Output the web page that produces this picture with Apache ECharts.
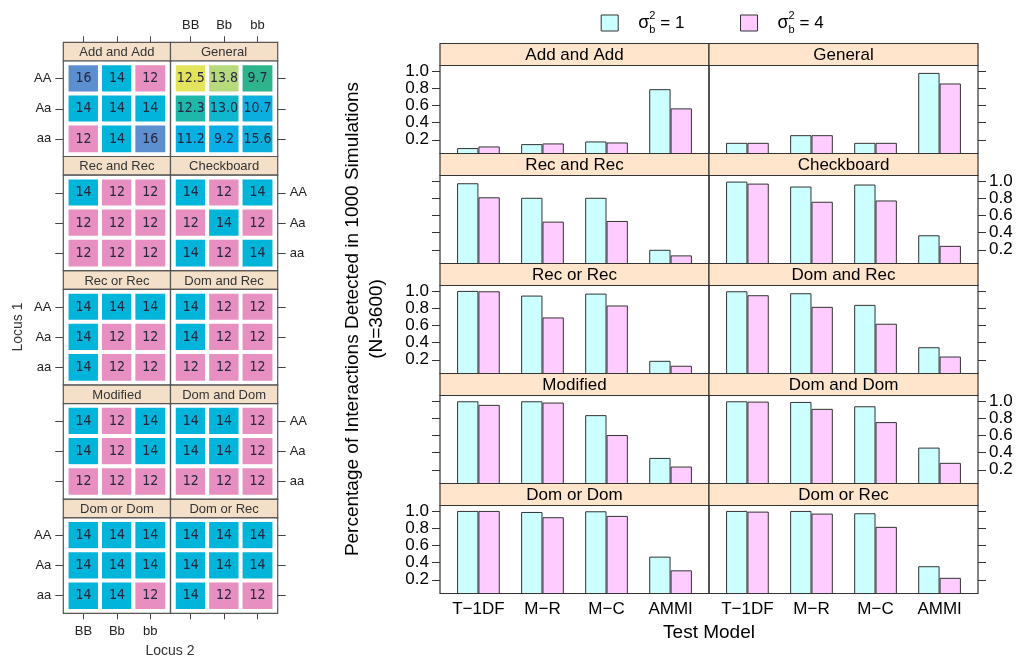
<!DOCTYPE html>
<html><head><meta charset="utf-8">
<script src="https://cdn.jsdelivr.net/npm/echarts@6/dist/echarts.min.js"></script>
<style>html,body{margin:0;padding:0;background:#fff}#c{width:1022px;height:658px}</style>
</head><body><div id="c"></div>
<script>
// ---------------- data ----------------
const panelNames = ['Add and Add','General','Rec and Rec','Checkboard','Rec or Rec','Dom and Rec','Modified','Dom and Dom','Dom or Dom','Dom or Rec'];
const testModels = ['T\u22121DF','M\u2212R','M\u2212C','AMMI'];
const locus1Labels = ['AA','Aa','aa'];
const locus2Labels = ['BB','Bb','bb'];
const powerTicks = [0.2,0.4,0.6,0.8,1.0];
const seriesNames = ['sigma1','sigma4'];

// penetrance tables (rows AA, Aa, aa ; columns BB, Bb, bb)
const heatAddAndAdd = [[16,14,12],[14,14,14],[12,14,16]];
const heatGeneral   = [[12.5,13.8,9.7],[12.3,13.0,10.7],[11.2,9.2,15.6]];
const heatRecAndRec = [[14,12,12],[12,12,12],[12,12,12]];
const heatCheckboard= [[14,12,14],[12,14,12],[14,12,14]];
const heatRecOrRec  = [[14,14,14],[14,12,12],[14,12,12]];
const heatDomAndRec = [[14,12,12],[14,12,12],[12,12,12]];
const heatModified  = [[14,12,14],[14,12,14],[12,12,12]];
const heatDomAndDom = [[14,14,12],[14,14,12],[12,12,12]];
const heatDomOrDom  = [[14,14,14],[14,14,14],[14,14,12]];
const heatDomOrRec  = [[14,14,14],[14,14,14],[14,12,12]];
const heatValues = [heatAddAndAdd,heatGeneral,heatRecAndRec,heatCheckboard,heatRecOrRec,heatDomAndRec,heatModified,heatDomAndDom,heatDomOrDom,heatDomOrRec];

// power (T-1DF, M-R, M-C, AMMI) per panel
const sigma1Power = [
  [0.104,0.150,0.181,0.788],
  [0.165,0.254,0.165,0.977],
  [0.973,0.804,0.804,0.200],
  [0.992,0.935,0.958,0.369],
  [1.000,0.946,0.969,0.188],
  [0.996,0.973,0.838,0.346],
  [0.996,0.996,0.835,0.338],
  [0.996,0.988,0.938,0.458],
  [1.000,0.988,0.996,0.469],
  [1.000,1.000,0.973,0.358]
];
const sigma4Power = [
  [0.123,0.158,0.169,0.565],
  [0.165,0.254,0.165,0.854],
  [0.810,0.527,0.535,0.135],
  [0.969,0.758,0.773,0.246],
  [0.996,0.692,0.831,0.131],
  [0.950,0.815,0.619,0.238],
  [0.954,0.981,0.604,0.238],
  [0.992,0.908,0.754,0.281],
  [1.000,0.927,0.942,0.310],
  [0.992,0.969,0.815,0.223]
];

// ---------------- styles ----------------
const levelColors = {16:'#5b8fcf',14:'#00b4da',12:'#e88fc1'};
const generalColors = [['#e4e45c','#b7da7c','#2db48c'],['#1eb7aa','#10b7cc','#0aafe0'],['#08afe3','#0aaee6','#0aaedb']];
const FONT = '"Liberation Sans", Arial, sans-serif';
const NARROW = '"Liberation Sans Narrow", "DejaVu Sans Condensed", sans-serif';
const barColors = ['#ccffff','#ffccff'];

const R = {x0:440, colW:269, top:43.5, stripH:22, panelH:88, rowH:110};
const L = {x0:63.3, colW:107.2, top:42.3, stripH:18.7, panelH:95.5, rowH:114.2};

const grids=[], xAxes=[], yAxes=[], series=[], graphics=[];
let gi = 0;

// ---------------- right bar chart ----------------
const unit = R.colW/4.2;
for (let p=0;p<10;p++){
  const r=Math.floor(p/2), c=p%2;
  const px = R.x0 + c*R.colW, sy = R.top + r*R.rowH, py = sy + R.stripH;
  grids.push({left: px + 0.1*unit, top: py, width: 4*unit, height: R.panelH});
  xAxes.push({type:'category', gridIndex:gi, data:testModels,
    axisLine:{show:false}, axisTick:{show:false}, splitLine:{show:false},
    axisLabel:{show:r===4, fontSize:17, color:'#000', margin:7, fontFamily:FONT, interval:0}});
  yAxes.push({type:'value', gridIndex:gi, min:0.041, max:1.063, position:c===0?'left':'right', offset:0.1*unit,
    axisLine:{show:false}, splitLine:{show:false},
    axisTick:{show:true, length:8, customValues:powerTicks, lineStyle:{color:'#333', width:1}},
    axisLabel:{show: c===0 ? r%2===0 : r%2===1, customValues:powerTicks, formatter:v=>v.toFixed(1),
      fontSize:17, color:'#000', margin:11, fontFamily:FONT}});
  [sigma1Power, sigma4Power].forEach((arr,k)=>{
    series.push({type:'bar', name:seriesNames[k], xAxisIndex:gi, yAxisIndex:gi, data:arr[p],
      barWidth:unit/3, barGap:'0%', clip:true, silent:true,
      itemStyle:{color:barColors[k], borderColor:'#333', borderWidth:1}});
  });
  graphics.push({type:'rect', z:1, shape:{x:px, y:sy, width:R.colW, height:R.stripH},
    style:{fill:'#ffe5cc', stroke:'#333', lineWidth:1.2}});
  graphics.push({type:'rect', z:100, shape:{x:px, y:py, width:R.colW, height:R.panelH},
    style:{fill:null, stroke:'#333', lineWidth:1.2}});
  graphics.push({type:'text', z:101, x:px+R.colW/2, y:sy+R.stripH/2+1,
    style:{text:panelNames[p], font:'17px '+FONT, fill:'#000', textAlign:'center', textVerticalAlign:'middle'}});
  gi++;
}
graphics.push({type:'text', x:365, y:319, rotation:Math.PI/2,
  style:{text:'Percentage of Interactions Detected in 1000 Simulations\n(N=3600)', font:'19px '+FONT, fill:'#000',
    textAlign:'center', textVerticalAlign:'middle', lineHeight:24}});
graphics.push({type:'text', x:709, y:633,
  style:{text:'Test Model', font:'19px '+FONT, fill:'#000', textAlign:'center', textVerticalAlign:'middle'}});

// ---------------- left heatmap panels ----------------
for (let p=0;p<10;p++){
  const r=Math.floor(p/2), c=p%2;
  const px = L.x0 + c*L.colW, sy = L.top + r*L.rowH, py = sy + L.stripH;
  grids.push({left:px+3.5, top:py+2.5, width:L.colW-7, height:L.panelH-5});
  const xa = {type:'category', gridIndex:gi, data:locus2Labels, splitLine:{show:false}, axisLine:{show:false},
    axisTick:{show:true, alignWithLabel:true, length:6, lineStyle:{color:'#444'}},
    axisLabel:{fontSize:13, color:'#222', fontFamily:FONT, margin:10}};
  if (r===0){ Object.assign(xa,{position:'top', offset:L.stripH+2.5}); xa.axisLabel.show = c===1; }
  else if (r===4){ Object.assign(xa,{position:'bottom', offset:2.5}); xa.axisLabel.show = c===0; xa.axisLabel.margin=12; }
  else { xa.show=false; }
  xAxes.push(xa);
  yAxes.push({type:'category', gridIndex:gi, data:locus1Labels, inverse:true, position:c===0?'left':'right', offset:3.5,
    splitLine:{show:false}, axisLine:{show:false},
    axisTick:{show:true, alignWithLabel:true, length:8, lineStyle:{color:'#444'}},
    axisLabel:{show: c===0 ? r%2===0 : r%2===1, fontSize:13, color:'#222', fontFamily:FONT, margin:12}});
  const data=[];
  heatValues[p].forEach((row,ri)=>row.forEach((v,ci)=>{
    data.push({value:[ci,ri,v], itemStyle:{color: p===1 ? generalColors[ri][ci] : levelColors[v]}});
  }));
  series.push({type:'heatmap', xAxisIndex:gi, yAxisIndex:gi, data, silent:true,
    itemStyle:{borderColor:'#fff', borderWidth:4},
    label:{show:true, fontSize:14, color:'#262640', fontFamily:NARROW,
      formatter: q => p===1 ? q.value[2].toFixed(1) : String(q.value[2])}});
  graphics.push({type:'rect', z:1, shape:{x:px, y:sy, width:L.colW, height:L.stripH},
    style:{fill:'#f4e0c8', stroke:'#555', lineWidth:1.2}});
  graphics.push({type:'rect', z:100, shape:{x:px, y:py, width:L.colW, height:L.panelH},
    style:{fill:null, stroke:'#555', lineWidth:1.2}});
  graphics.push({type:'text', z:101, x:px+L.colW/2, y:sy+L.stripH/2+1,
    style:{text:panelNames[p], font:'13px '+FONT, fill:'#333', textAlign:'center', textVerticalAlign:'middle'}});
  gi++;
}
graphics.push({type:'text', x:18.5, y:327, rotation:Math.PI/2,
  style:{text:'Locus 1', font:'14px '+FONT, fill:'#333', textAlign:'center', textVerticalAlign:'middle'}});
graphics.push({type:'text', x:170, y:651,
  style:{text:'Locus 2', font:'14px '+FONT, fill:'#333', textAlign:'center', textVerticalAlign:'middle'}});

// ---------------- legend ----------------
const legendRich = {
  s:{fontSize:18, fontFamily:FONT, color:'#000', padding:[0,0,0,15], lineHeight:26},
  p:{fontSize:11, fontFamily:FONT, color:'#000', width:0, height:12, verticalAlign:'top', lineHeight:26},
  q:{fontSize:11, fontFamily:FONT, color:'#000', width:8, height:12, verticalAlign:'bottom', lineHeight:26},
  t:{fontSize:17, fontFamily:FONT, color:'#000', padding:[0,0,0,3], lineHeight:26}
};
const legendVal = {sigma1:'1', sigma4:'4'};
const mkLegend = (name,left)=>({data:[name], left, top:5, itemWidth:17, itemHeight:16, icon:'rect',
  itemStyle:{borderColor:'#333', borderWidth:1}, selectedMode:false,
  formatter: n => '{s|\u03c3}{p|2}{q|b}{t|= '+legendVal[n]+'}', textStyle:{rich:legendRich}});

const chart = echarts.init(document.getElementById('c'), null, {renderer:'canvas'});
chart.setOption({
  animation:false, backgroundColor:'#fff',
  legend:[mkLegend('sigma1',595.7), mkLegend('sigma4',735)],
  grid:grids, xAxis:xAxes, yAxis:yAxes, series, graphic:graphics
});
</script></body></html>
